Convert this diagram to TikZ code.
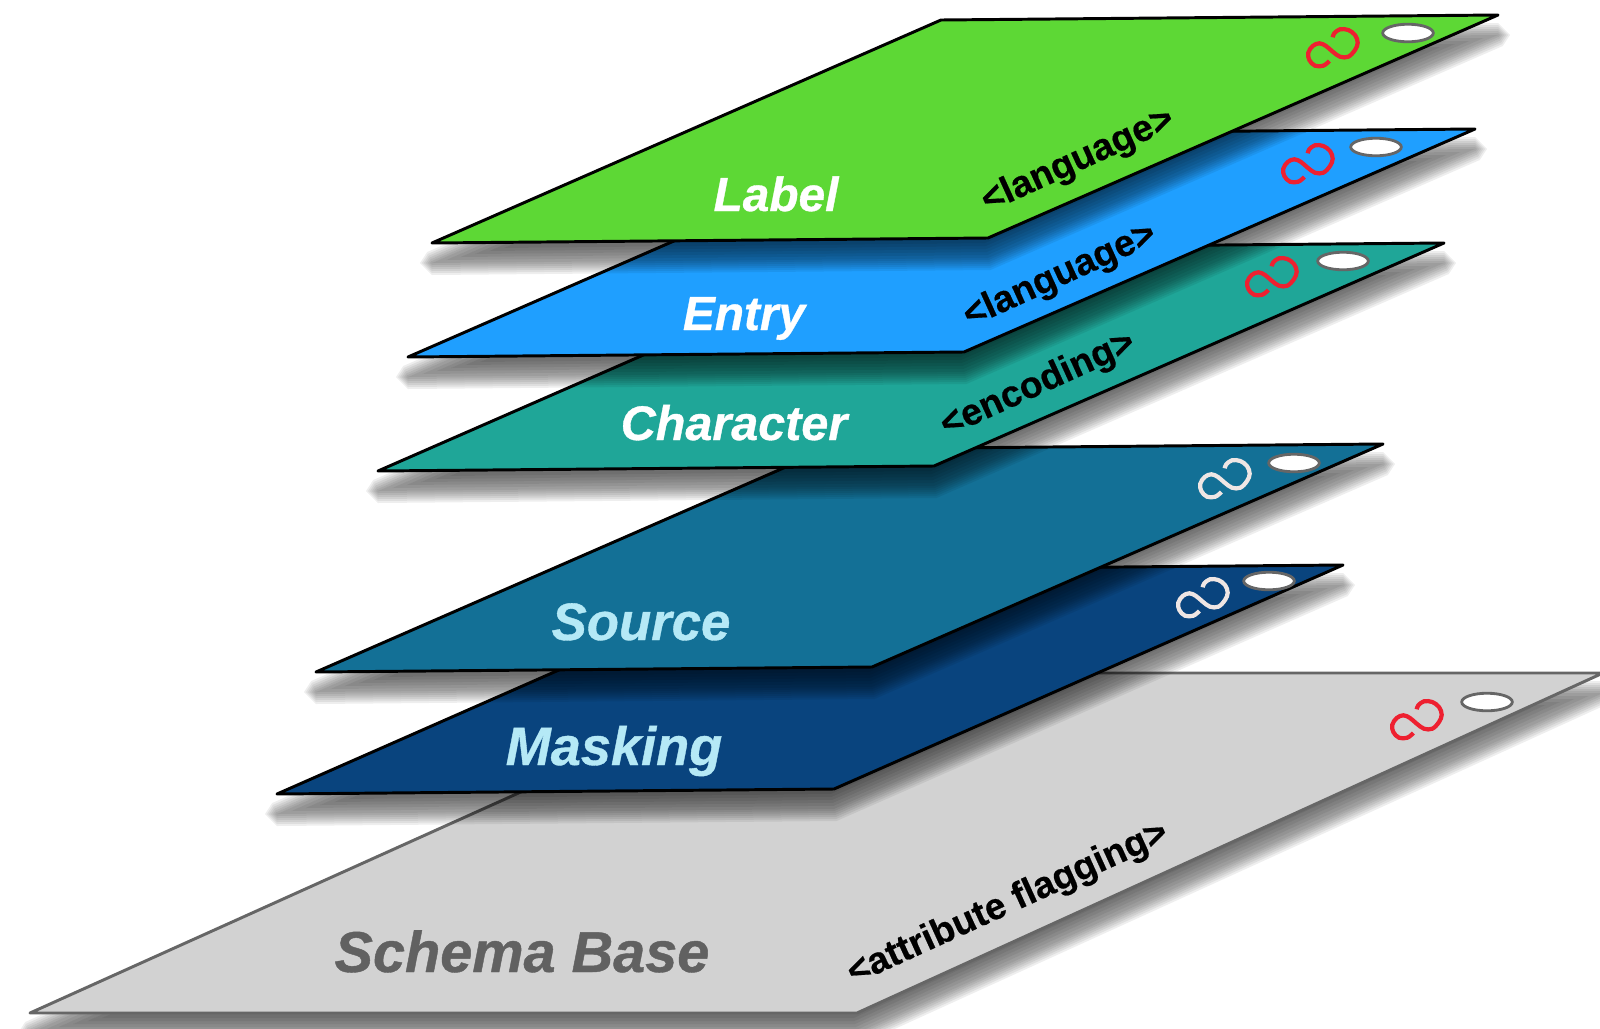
\documentclass[tikz,border=0pt]{standalone}
\usepackage{fontspec}
\setmainfont{Liberation Sans}[BoldFeatures={FakeBold=0.5},BoldItalicFeatures={FakeBold=0.7}]
\usetikzlibrary{shapes.geometric}
\definecolor{gbase}{HTML}{D2D2D2}
\definecolor{gmask}{HTML}{09447E}
\definecolor{gsource}{HTML}{137096}
\definecolor{gchar}{HTML}{1FA698}
\definecolor{gentry}{HTML}{1F9FFF}
\definecolor{glabel}{HTML}{5DD835}
\definecolor{lightcy}{HTML}{B5E9F6}
\definecolor{loopred}{HTML}{EE2030}
\definecolor{looppale}{HTML}{EFE6E4}
\newcommand{\softshadow}[4]{%
  % eroded layers dim the sharp tips
  \foreach \d in {-15,-12,-9,-6,-3,0}{
    \fill[black,opacity=0.065]
      ([shift={(4.79*\d,-\d+20)}]#2) -- ([shift={(0.21*\d,\d+20)}]#3) --
      ([shift={(-4.79*\d,\d+20)}]#4) -- ([shift={(-0.21*\d,-\d+20)}]#1) -- cycle;
  }
  % dilated layers with bevelled tips feather the outside
  \foreach \d in {2,4,...,12}{
    \fill[black,opacity=0.065]
      ([shift={(-0.21*\d,-\d+20)}]#1) -- ([shift={(0,-\d+20)}]#2) -- ([shift={(\d,20)}]#2) --
      ([shift={(0.4*\d,0.917*\d+20)}]#2) -- ([shift={(0.21*\d,\d+20)}]#3) --
      ([shift={(0,\d+20)}]#4) -- ([shift={(-\d,20)}]#4) -- ([shift={(-0.4*\d,-0.917*\d+20)}]#4) -- cycle;
  }}
\newcommand{\infinityloop}[3]{%
  \draw[#3,line width=6pt,shift={(#1,#2)}] plot[smooth,tension=0.6] coordinates
   {(-3.7,14) (-9.7,18.7) (-18,18.7) (-23.7,13) (-24.7,5.7) (-20.3,-1) (-13.7,-3.7) (-7,-1) (-0.3,4.7)
    (7,9.7) (15.3,9.7) (22,3) (24.7,-4.3) (22,-12) (15.3,-17) (7,-17.7) (1.3,-13.7) (-0.3,-9.7)};}
\begin{document}
\begin{tikzpicture}[x=0.05cm,y=-0.05cm,
  plane/.style={line width=4.2pt,line join=round,draw=black},
  title/.style={font=\bfseries\itshape,inner sep=0,anchor=base},
  tagtext/.style={font=\bfseries\fontsize{53}{55}\selectfont,inner sep=0,anchor=center,black,rotate=24.5},
  hole/.style={ellipse,draw=black!60,fill=white,line width=4pt,minimum width=72pt,minimum height=25pt,inner sep=0},
]
\useasboundingbox (0,0) rectangle (1600,1028);
% Schema Base
\coordinate (sa) at (785,673); \coordinate (sb) at (1603,673); \coordinate (sc) at (857,1013); \coordinate (sd) at (30,1013);
\softshadow{sa}{sb}{sc}{sd}
\draw[plane,draw=black!60,fill=gbase] (sa)--(sb)--(sc)--(sd)--cycle;
\node[hole] (sh) at (1487,702) {};
\infinityloop{1417}{719}{loopred}
\node[title,text=black!62] (st) at (522,972) {\fontsize{82}{84}\selectfont Schema Base};
\node[tagtext] (stag) at (1008,904) {<attribute flagging>};
% Masking
\coordinate (ma) at (786,570); \coordinate (mb) at (1343,565); \coordinate (mc) at (834,789); \coordinate (md) at (277,794);
\softshadow{ma}{mb}{mc}{md}
\draw[plane,fill=gmask] (ma)--(mb)--(mc)--(md)--cycle;
\node[hole] (mh) at (1269,581) {};
\infinityloop{1203}{597}{looppale}
\node[title,text=lightcy] (mt) at (614,765) {\fontsize{77}{79}\selectfont Masking};
% Source
\coordinate (oa) at (827,449); \coordinate (ob) at (1383,444); \coordinate (oc) at (872,667); \coordinate (od) at (316,672);
\softshadow{oa}{ob}{oc}{od}
\draw[plane,fill=gsource] (oa)--(ob)--(oc)--(od)--cycle;
\node[hole] (oh) at (1294,463) {};
\infinityloop{1225}{478}{looppale}
\node[title,text=lightcy] (ot) at (641,640) {\fontsize{75}{77}\selectfont Source};
% Character
\coordinate (ca) at (888,248); \coordinate (cb) at (1444,243); \coordinate (cc) at (934,466); \coordinate (cd) at (378,471);
\softshadow{ca}{cb}{cc}{cd}
\draw[plane,fill=gchar] (ca)--(cb)--(cc)--(cd)--cycle;
\node[hole] (ch) at (1343,261) {};
\infinityloop{1272}{276}{loopred}
\node[title,text=white] (ct) at (734,440) {\fontsize{69}{71}\selectfont Character};
\node[tagtext] (ctag) at (1038,385) {<encoding>};
% Entry
\coordinate (ea) at (919,134); \coordinate (eb) at (1475,129); \coordinate (ec) at (964,352); \coordinate (ed) at (408,357);
\softshadow{ea}{eb}{ec}{ed}
\draw[plane,fill=gentry] (ea)--(eb)--(ec)--(ed)--cycle;
\node[hole] (eh) at (1376,147) {};
\infinityloop{1308}{163}{loopred}
\node[title,text=white] (et) at (744,330) {\fontsize{68}{70}\selectfont Entry};
\node[tagtext] (etag) at (1060,276) {<language>};
% Label
\coordinate (la) at (941,20); \coordinate (lb) at (1498,15); \coordinate (lc) at (988,238); \coordinate (ld) at (432,243);
\softshadow{la}{lb}{lc}{ld}
\draw[plane,fill=glabel] (la)--(lb)--(lc)--(ld)--cycle;
\node[hole] (lh) at (1408,33) {};
\infinityloop{1333}{47}{loopred}
\node[title,text=white] (lt) at (776,211) {\fontsize{68}{70}\selectfont Label};
\node[tagtext] (ltag) at (1078,161) {<language>};
\end{tikzpicture}
\end{document}
